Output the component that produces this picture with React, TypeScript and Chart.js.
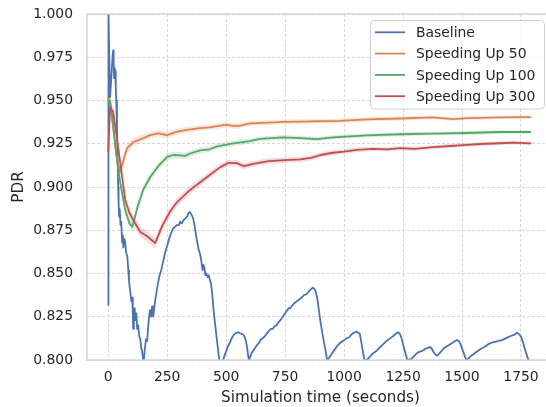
import React, { useEffect, useRef } from "react";
import { Chart, registerables } from "chart.js";

Chart.register(...registerables);

// ---------- data ----------
const xTicks = [0, 250, 500, 750, 1000, 1250, 1500, 1750];
const yTicks = [0.8, 0.825, 0.85, 0.875, 0.9, 0.925, 0.95, 0.975, 1.0];
const X_MIN = -90;
const X_MAX = 1890;
const Y_MIN = 0.8;
const Y_MAX = 1.0;

const seriesNames = ["Baseline", "Speeding Up 50", "Speeding Up 100", "Speeding Up 300"];
const seriesColors = ["#4c72b0", "#dd8452", "#55a868", "#c44e52"];
const bandColors = ["rgba(76,114,176,0.2)", "rgba(221,132,82,0.2)", "rgba(85,168,104,0.2)", "rgba(196,78,82,0.2)"];

const baselineTime = [
  0, 1, 5, 8, 14, 18, 21, 23, 25, 27, 29, 32, 34, 37, 40, 42, 44, 46, 49, 52, 55, 59, 62, 64, 68, 72, 76, 81, 85, 88,
  91, 95, 98, 102, 104, 106, 109, 112, 115, 119, 123, 127, 131, 136, 140, 144, 148, 151, 155, 160, 165, 170, 174, 178,
  182, 186, 189, 191, 195, 200, 208, 216, 225, 233, 241, 250, 258, 266, 275, 283, 292, 300, 305, 312, 320, 328, 335,
  341, 347, 353, 360, 367, 375, 383, 390, 395, 400, 404, 408, 412, 416, 421, 426, 430, 436, 441, 446, 452, 458, 464,
  470, 476, 482, 487, 492, 500, 508, 517, 525, 532, 540, 547, 553, 559, 566, 572, 578, 584, 589, 593, 597, 602, 608,
  615, 623, 630, 640, 648, 655, 665, 674, 682, 690, 698, 705, 713, 720, 730, 740, 750, 760, 766, 772, 780, 790, 800,
  810, 820, 830, 840, 850, 860, 868, 875, 880, 886, 893, 900, 908, 915, 922, 928, 933, 940, 950, 960, 970, 980, 990,
  1000, 1010, 1020, 1030, 1038, 1046, 1053, 1060, 1067, 1072, 1077, 1082, 1088, 1100, 1110, 1120, 1135, 1150, 1165,
  1180, 1195, 1210, 1222, 1230, 1237, 1244, 1252, 1260, 1268, 1285, 1295, 1305, 1315, 1325, 1335, 1345, 1355, 1364,
  1372, 1380, 1388, 1395, 1405, 1415, 1425, 1436, 1448, 1460, 1470, 1479, 1487, 1494, 1502, 1510, 1518, 1525, 1535,
  1550, 1565, 1580, 1595, 1610, 1625, 1640, 1655, 1670, 1685, 1700, 1710, 1720, 1733, 1742, 1750, 1758, 1765, 1772,
  1780, 1788,
];
const baselinePdr = [
  0.832, 1.003, 0.97, 0.952, 0.965, 0.975, 0.979, 0.972, 0.963, 0.969, 0.967, 0.958, 0.95, 0.935, 0.915, 0.9, 0.891,
  0.883, 0.887, 0.878, 0.88, 0.868, 0.872, 0.865, 0.87, 0.868, 0.862, 0.86, 0.852, 0.846, 0.842, 0.838, 0.834, 0.836,
  0.828, 0.818, 0.826, 0.83, 0.823, 0.827, 0.818, 0.82, 0.814, 0.812, 0.807, 0.805, 0.8, 0.7995, 0.806, 0.812, 0.811,
  0.82, 0.826, 0.829, 0.825, 0.831, 0.828, 0.825, 0.83, 0.835, 0.842, 0.848, 0.852, 0.857, 0.862, 0.866, 0.87, 0.873,
  0.876, 0.877, 0.878, 0.878, 0.88, 0.879, 0.881, 0.882, 0.883, 0.885, 0.8855, 0.884, 0.882, 0.877, 0.87, 0.864,
  0.861, 0.857, 0.852, 0.855, 0.853, 0.849, 0.85, 0.848, 0.849, 0.847, 0.844, 0.838, 0.83, 0.822, 0.815, 0.808,
  0.801, 0.797, 0.797, 0.8, 0.802, 0.805, 0.808, 0.8105, 0.813, 0.8145, 0.8155, 0.8158, 0.816, 0.8155, 0.815, 0.8148,
  0.8135, 0.811, 0.807, 0.803, 0.7995, 0.802, 0.804, 0.8055, 0.807, 0.8085, 0.81, 0.812, 0.8125, 0.814, 0.8155,
  0.817, 0.818, 0.818, 0.8195, 0.82, 0.8215, 0.823, 0.825, 0.827, 0.829, 0.83, 0.83, 0.8315, 0.833, 0.834, 0.835,
  0.836, 0.8375, 0.838, 0.8395, 0.841, 0.8418, 0.841, 0.8395, 0.836, 0.829, 0.822, 0.8155, 0.81, 0.805, 0.8, 0.8005,
  0.802, 0.804, 0.806, 0.808, 0.8095, 0.8105, 0.8115, 0.8125, 0.813, 0.8145, 0.8155, 0.816, 0.8165, 0.8158, 0.815,
  0.811, 0.807, 0.803, 0.7995, 0.8005, 0.802, 0.8035, 0.805, 0.807, 0.809, 0.811, 0.8125, 0.814, 0.8155, 0.816,
  0.815, 0.8125, 0.808, 0.804, 0.8, 0.8005, 0.802, 0.8035, 0.8045, 0.805, 0.8055, 0.8065, 0.807, 0.8075, 0.8065,
  0.8045, 0.803, 0.8025, 0.804, 0.8055, 0.807, 0.808, 0.809, 0.81, 0.811, 0.8115, 0.811, 0.809, 0.806, 0.803, 0.8,
  0.8005, 0.802, 0.8035, 0.805, 0.8065, 0.8075, 0.809, 0.81, 0.8105, 0.811, 0.8115, 0.8125, 0.8135, 0.814, 0.8145,
  0.8157, 0.815, 0.8135, 0.8105, 0.807, 0.804, 0.8005, 0.7995,
];

const up50Time = [
  0, 8, 20, 35, 50, 60, 70, 80, 100, 106, 125, 144, 178, 212, 250, 292, 335, 390, 430, 475, 500, 530, 560, 602, 680,
  742, 820, 886, 983, 1097, 1237, 1377, 1462, 1521, 1661, 1790,
];
const up50Pdr = [
  0.951, 0.948, 0.935, 0.918, 0.9087, 0.913, 0.918, 0.9225, 0.925, 0.926, 0.927, 0.928, 0.93, 0.931, 0.93, 0.932,
  0.933, 0.934, 0.9345, 0.9355, 0.936, 0.9352, 0.9355, 0.9368, 0.9372, 0.9376, 0.9378, 0.938, 0.9382, 0.9391,
  0.9396, 0.9402, 0.9392, 0.9398, 0.9403, 0.9404,
];
const up50Ci = [
  0.003, 0.003, 0.003, 0.003, 0.003, 0.003, 0.003, 0.003, 0.0025, 0.0025, 0.0025, 0.002, 0.002, 0.002, 0.002, 0.0018,
  0.0018, 0.0016, 0.0016, 0.0015, 0.0015, 0.0015, 0.0015, 0.0014, 0.0014, 0.0013, 0.0013, 0.0012, 0.0012, 0.0012,
  0.0011, 0.0011, 0.0011, 0.001, 0.001, 0.001,
];

const up100Time = [
  0, 8, 20, 35, 51, 72, 90, 102, 112, 123, 148, 178, 212, 250, 275, 305, 325, 350, 390, 430, 462, 530, 600, 644, 742,
  814, 886, 953, 1097, 1237, 1377, 1521, 1661, 1790,
];
const up100Pdr = [
  0.949, 0.95, 0.937, 0.918, 0.9023, 0.8867, 0.879, 0.877, 0.882, 0.888, 0.8983, 0.9058, 0.912, 0.9174, 0.9185,
  0.9183, 0.918, 0.9195, 0.9212, 0.9218, 0.9235, 0.9252, 0.9265, 0.9278, 0.9287, 0.9283, 0.9277, 0.9287, 0.9298,
  0.9305, 0.9308, 0.9312, 0.9318, 0.9318,
];
const up100Ci = [
  0.003, 0.003, 0.003, 0.003, 0.003, 0.003, 0.003, 0.003, 0.003, 0.003, 0.0025, 0.0025, 0.002, 0.002, 0.002, 0.002,
  0.0018, 0.0018, 0.0017, 0.0016, 0.0016, 0.0015, 0.0015, 0.0014, 0.0014, 0.0013, 0.0013, 0.0012, 0.0012, 0.0012,
  0.0011, 0.0011, 0.001, 0.001,
];

const up300Time = [
  0, 8, 21, 35, 51, 72, 90, 106, 136, 165, 191, 199, 229, 263, 292, 347, 419, 475, 510, 545, 575, 620, 680, 750, 814,
  860, 900, 953, 1000, 1055, 1120, 1182, 1237, 1300, 1377, 1450, 1521, 1600, 1661, 1720, 1790,
];
const up300Pdr = [
  0.9205, 0.9463, 0.9434, 0.93, 0.914, 0.8925, 0.885, 0.881, 0.874, 0.8715, 0.8685, 0.8676, 0.8775, 0.886, 0.8913,
  0.8983, 0.9058, 0.9115, 0.914, 0.9138, 0.912, 0.9135, 0.915, 0.9155, 0.916, 0.9168, 0.9185, 0.9198, 0.9205,
  0.9215, 0.922, 0.9218, 0.9225, 0.922, 0.923, 0.9237, 0.9243, 0.925, 0.9253, 0.9256, 0.9252,
];
const up300Ci = [
  0.003, 0.003, 0.003, 0.003, 0.003, 0.003, 0.003, 0.003, 0.003, 0.003, 0.003, 0.003, 0.003, 0.0028, 0.0025, 0.0022,
  0.002, 0.002, 0.0018, 0.0018, 0.0018, 0.0017, 0.0016, 0.0016, 0.0015, 0.0015, 0.0014, 0.0014, 0.0014, 0.0013,
  0.0013, 0.0013, 0.0012, 0.0012, 0.0012, 0.0011, 0.0011, 0.0011, 0.001, 0.001, 0.001,
];

// ---------- layout constants ----------
const CANVAS_W = 570;
const CANVAS_H = 407;
const PLOT_LEFT = 87;
const PLOT_TOP = 14;
const PLOT_RIGHT = 554;
const PLOT_BOTTOM = 360;
const TEXT_COLOR = "#262626";
const FONT = "'DejaVu Sans', sans-serif";

const toPoints = (t: number[], v: number[]) => t.map((x, i) => ({ x, y: v[i] }));

const framePlugin = {
  id: "frameAndLegend",
  afterDatasetsDraw(chart: any) {
    const { ctx, chartArea } = chart;
    ctx.save();
    ctx.strokeStyle = "#cccccc";
    ctx.lineWidth = 1.25;
    ctx.strokeRect(chartArea.left, chartArea.top, chartArea.right - chartArea.left, chartArea.bottom - chartArea.top);
    ctx.restore();
  },
  afterDraw(chart: any) {
    const { ctx } = chart;
    ctx.save();
    const bx = 370.5;
    const by = 20.5;
    const bw = 174;
    const bh = 88.5;
    const r = 4;
    ctx.beginPath();
    ctx.moveTo(bx + r, by);
    ctx.lineTo(bx + bw - r, by);
    ctx.arcTo(bx + bw, by, bx + bw, by + r, r);
    ctx.lineTo(bx + bw, by + bh - r);
    ctx.arcTo(bx + bw, by + bh, bx + bw - r, by + bh, r);
    ctx.lineTo(bx + r, by + bh);
    ctx.arcTo(bx, by + bh, bx, by + bh - r, r);
    ctx.lineTo(bx, by + r);
    ctx.arcTo(bx, by, bx + r, by, r);
    ctx.closePath();
    ctx.fillStyle = "rgba(255,255,255,0.8)";
    ctx.fill();
    ctx.strokeStyle = "#d0d0d0";
    ctx.lineWidth = 1;
    ctx.stroke();
    ctx.font = `13.9px ${FONT}`;
    ctx.textBaseline = "middle";
    ctx.textAlign = "left";
    seriesNames.forEach((name, i) => {
      const y = 32.3 + i * 21.3;
      ctx.strokeStyle = seriesColors[i];
      ctx.lineWidth = 1.8;
      ctx.beginPath();
      ctx.moveTo(375, y);
      ctx.lineTo(405, y);
      ctx.stroke();
      ctx.fillStyle = TEXT_COLOR;
      ctx.fillText(name, 416, y + 1);
    });
    ctx.restore();
  },
};

export default function App() {
  const canvasRef = useRef<HTMLCanvasElement | null>(null);

  useEffect(() => {
    if (!canvasRef.current) return;
    Chart.defaults.font.family = FONT;

    const lineDs = (label: string, t: number[], v: number[], idx: number, order: number) => ({
      label,
      data: toPoints(t, v),
      borderColor: seriesColors[idx],
      backgroundColor: seriesColors[idx],
      borderWidth: 1.8,
      pointRadius: 0,
      tension: 0,
      fill: false,
      order,
      borderJoinStyle: "round",
      borderCapStyle: "round",
    });
    const bandDs = (t: number[], v: number[], ci: number[], idx: number) => [
      {
        label: "upper",
        data: toPoints(t, v.map((y, i) => y + ci[i])),
        borderColor: "transparent",
        borderWidth: 0,
        pointRadius: 0,
        fill: false,
        order: 10,
      },
      {
        label: "lower",
        data: toPoints(t, v.map((y, i) => y - ci[i])),
        borderColor: "transparent",
        backgroundColor: bandColors[idx],
        borderWidth: 0,
        pointRadius: 0,
        fill: "-1",
        order: 10,
      },
    ];

    const datasets: any[] = [
      lineDs(seriesNames[0], baselineTime, baselinePdr, 0, 5),
      ...bandDs(up50Time, up50Pdr, up50Ci, 1),
      lineDs(seriesNames[1], up50Time, up50Pdr, 1, 4),
      ...bandDs(up100Time, up100Pdr, up100Ci, 2),
      lineDs(seriesNames[2], up100Time, up100Pdr, 2, 3),
      ...bandDs(up300Time, up300Pdr, up300Ci, 3),
      lineDs(seriesNames[3], up300Time, up300Pdr, 3, 2),
    ];

    const chart = new Chart(canvasRef.current, {
      type: "line",
      data: { datasets },
      options: {
        animation: false,
        responsive: false,
        events: [],
        layout: { padding: { top: PLOT_TOP, right: CANVAS_W - PLOT_RIGHT, left: 0, bottom: 0 } },
        plugins: { legend: { display: false }, tooltip: { enabled: false } },
        scales: {
          x: {
            type: "linear",
            min: X_MIN,
            max: X_MAX,
            afterBuildTicks: (s: any) => {
              s.ticks = xTicks.map((v) => ({ value: v }));
            },
            afterFit: (s: any) => {
              s.height = CANVAS_H - PLOT_BOTTOM;
              s.paddingLeft = 0;
              s.paddingRight = 0;
            },
            ticks: {
              callback: (v: any) => String(v),
              padding: 9,
              color: TEXT_COLOR,
              font: { size: 13.9 },
              maxRotation: 0,
              autoSkip: false,
            },
            grid: { color: "#d8d8d8", lineWidth: 1, drawTicks: false },
            border: { display: false, dash: [3, 2] },
            title: {
              display: true,
              text: "Simulation time (seconds)",
              color: TEXT_COLOR,
              font: { size: 15.2 },
              padding: { top: 0, bottom: 0 },
            },
          },
          y: {
            type: "linear",
            min: Y_MIN,
            max: Y_MAX,
            afterBuildTicks: (s: any) => {
              s.ticks = yTicks.map((v) => ({ value: v }));
            },
            afterFit: (s: any) => {
              s.width = PLOT_LEFT;
              s.paddingTop = 0;
              s.paddingBottom = 0;
            },
            ticks: {
              callback: (v: any) => Number(v).toFixed(3),
              padding: 14,
              color: TEXT_COLOR,
              font: { size: 13.9 },
              autoSkip: false,
            },
            grid: { color: "#d8d8d8", lineWidth: 1, drawTicks: false },
            border: { display: false, dash: [3, 2] },
            title: {
              display: true,
              text: "PDR",
              color: TEXT_COLOR,
              font: { size: 15.2 },
              padding: { top: 10, bottom: 0 },
            },
          },
        },
      },
      plugins: [framePlugin],
    } as any);

    return () => chart.destroy();
  }, []);

  return (
    <div
      style={{
        position: "fixed",
        left: 0,
        top: 0,
        width: 546,
        height: 407,
        overflow: "hidden",
        background: "#ffffff",
      }}
    >
      <canvas ref={canvasRef} width={CANVAS_W} height={CANVAS_H} style={{ display: "block" }} />
    </div>
  );
}
